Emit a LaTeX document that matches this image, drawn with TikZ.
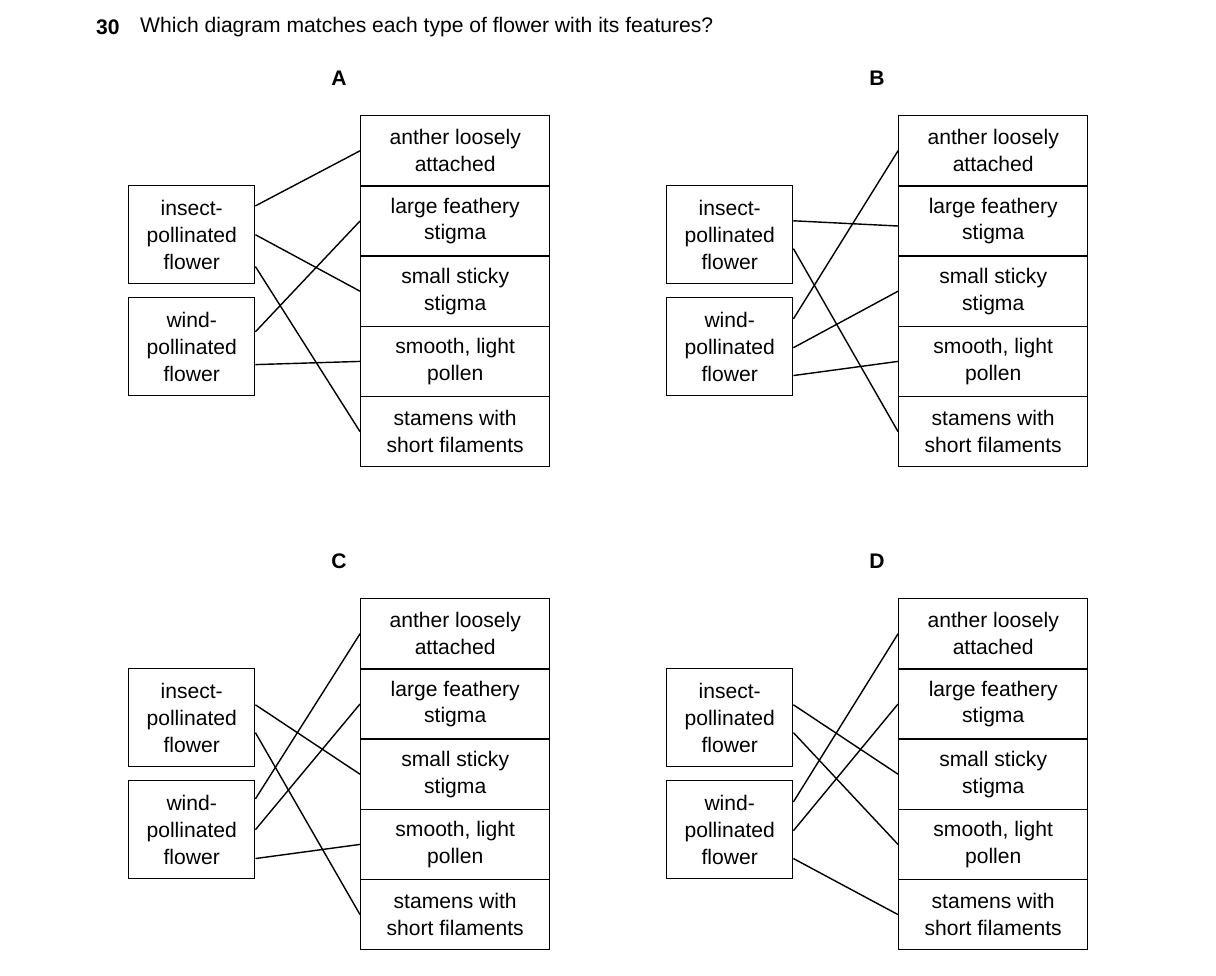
\documentclass[tikz,border=0pt]{standalone}
\usepackage{fontspec}
\setmainfont{Liberation Sans}
\usetikzlibrary{calc}
\tikzset{
 box/.style={draw,line width=0.8pt,minimum width=126*0.02cm,minimum height=98*0.02cm,align=center,inner sep=0pt,font=\fontsize{12}{15.3}\selectfont},
 row/.style={draw,line width=0.8pt,minimum width=189*0.02cm,minimum height=70.2*0.02cm,align=center,inner sep=0pt,font=\fontsize{12}{15.3}\selectfont,anchor=north west},
 lab/.style={font=\bfseries\fontsize{12}{14}\selectfont},
 link/.style={line width=0.8pt}
}
\newcommand{\mkpanel}[3]{%
 \node[lab] (#3L) at (#1+339,#2+78) {#3};
 \node[box,anchor=north west] (#3i) at (#1+128,#2+185) {insect-\\pollinated\\flower};
 \node[box,anchor=north west] (#3w) at (#1+128,#2+297) {wind-\\pollinated\\flower};
 \node[row] (#3r1) at (#1+360,#2+115) {anther loosely\\attached};
 \node[row] (#3r2) at (#1+360,#2+185.2) {large feathery\\stigma};
 \node[row] (#3r3) at (#1+360,#2+255.4) {small sticky\\stigma};
 \node[row] (#3r4) at (#1+360,#2+325.6) {smooth, light\\pollen};
 \node[row] (#3r5) at (#1+360,#2+395.8) {stamens with\\short filaments};
}
\newcommand{\lk}[3]{\draw[link] ($(#1.north east)!#2!(#1.south east)$) -- (#3.west);}
\begin{document}
\begin{tikzpicture}[x=0.02cm,y=-0.02cm]
\useasboundingbox (0,0) rectangle (1216,975);
\node[lab,anchor=west] (num) at (90,27) {30};
\node[anchor=west,font=\fontsize{12}{14}\selectfont] (q) at (134,27) {Which diagram matches each type of flower with its features?};
\mkpanel{0}{0}{A}
\mkpanel{538}{0}{B}
\mkpanel{0}{483}{C}
\mkpanel{538}{483}{D}
% A
\lk{Ai}{0.21}{Ar1}
\lk{Ai}{0.5}{Ar3}
\lk{Ai}{0.82}{Ar5}
\lk{Aw}{0.35}{Ar2}
\lk{Aw}{0.68}{Ar4}
% B
\draw[link] ($(Bi.north east)!0.36!(Bi.south east)$) -- ([yshift=-0.1cm]Br2.west);
\lk{Bi}{0.64}{Br5}
\lk{Bw}{0.22}{Br1}
\lk{Bw}{0.51}{Br3}
\lk{Bw}{0.79}{Br4}
% C
\lk{Ci}{0.37}{Cr3}
\lk{Ci}{0.65}{Cr5}
\lk{Cw}{0.19}{Cr1}
\lk{Cw}{0.5}{Cr2}
\lk{Cw}{0.79}{Cr4}
% D
\lk{Di}{0.37}{Dr3}
\lk{Di}{0.65}{Dr4}
\lk{Dw}{0.22}{Dr1}
\lk{Dw}{0.51}{Dr2}
\lk{Dw}{0.79}{Dr5}
\end{tikzpicture}
\end{document}
